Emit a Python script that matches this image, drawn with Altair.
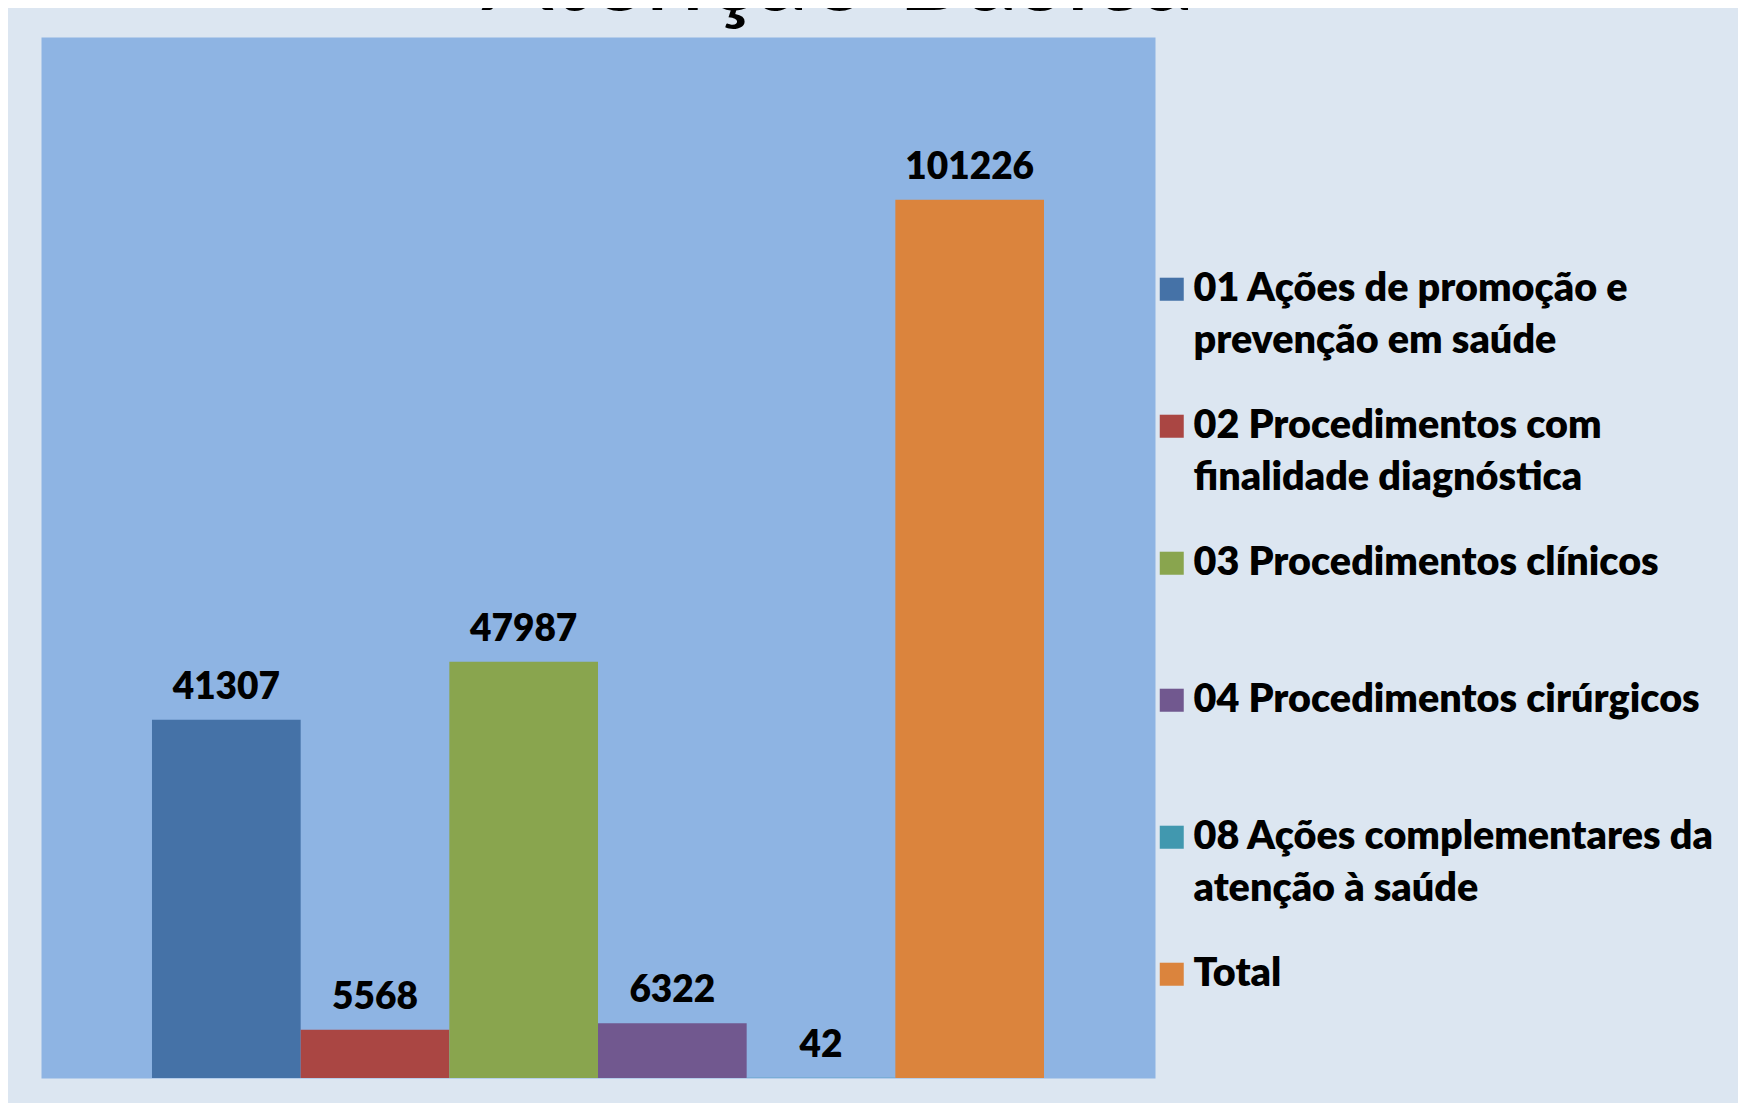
import json
import altair as alt
import pandas as pd

# ---- data ----
categories = [
    "01 Ações de promoção e prevenção em saúde",
    "02 Procedimentos com finalidade diagnóstica",
    "03 Procedimentos clínicos",
    "04 Procedimentos cirúrgicos",
    "08 Ações complementares da atenção à saúde",
    "Total",
]
values = [41307, 5568, 47987, 6322, 42, 101226]
colors = ["#4572A7", "#AA4643", "#89A54E", "#71588F", "#4198AF", "#DB843D"]
legend_lines = [
    ["01 Ações de promoção e", "prevenção em saúde"],
    ["02 Procedimentos com", "finalidade diagnóstica"],
    ["03 Procedimentos clínicos"],
    ["04 Procedimentos cirúrgicos"],
    ["08 Ações complementares da", "atenção à saúde"],
    ["Total"],
]
title_text = ["Atenção Básica"]

df = pd.DataFrame({"cat": categories, "val": values, "lab": [str(v) for v in values]})
title_df = pd.DataFrame({"t": title_text})

# legend label expression: split long names on two lines
expr = "datum.label"
for cat, lines in reversed(list(zip(categories, legend_lines))):
    expr = f"datum.label == {json.dumps(cat)} ? {json.dumps(lines)} : ({expr})"

x_enc = alt.X("cat:N", sort=categories,
              scale=alt.Scale(paddingInner=0, paddingOuter=0.7466), axis=None)
y_enc = alt.Y("val:Q", scale=alt.Scale(domain=[0, 120000], nice=False, zero=True), axis=None)

bars = alt.Chart(df).mark_bar().encode(
    x=x_enc,
    y=y_enc,
    color=alt.Color(
        "cat:N",
        scale=alt.Scale(domain=categories, range=colors),
        legend=alt.Legend(
            title=None,
            orient="none",
            legendX=1111,
            legendY=244,
            direction="vertical",
            gridAlign="all",
            rowPadding=44,
            symbolType="M-1,-1.92H1V0H-1Z",
            symbolSize=576,
            symbolStrokeWidth=0,
            symbolOffset=0,
            labelOffset=2,
            labelFont="Lato",
            labelFontSize=39.5,
            labelFontWeight=800,
            labelColor="#000000",
            labelBaseline="alphabetic",
            labelLimit=1000,
            labelExpr=expr,
            padding=0,
            offset=0,
        ),
    ),
)

labels = alt.Chart(df).mark_text(
    font="Lato", fontSize=37, fontWeight=800, baseline="alphabetic",
    align="center", dy=-21, color="#000000",
).encode(x=x_enc, y=y_enc, text="lab:N")

title = alt.Chart(title_df).mark_text(
    font="Lato", fontSize=107, baseline="alphabetic", align="center", color="#000000",
).encode(x=alt.value(797), y=alt.value(-27), text="t:N")

chart = alt.layer(bars, labels, title).properties(
    width=1114,
    height=1041,
    autosize=alt.AutoSizeParams(type="none"),
    padding={"left": 33, "top": 29, "right": 583, "bottom": 25},
    background="#DCE6F1",
).configure(
    style={"guide-label": {"lineHeight": 52}},
    view=alt.ViewConfig(fill="#8EB4E3", stroke="transparent"),
)

chart.save("out.html", embed_options={"renderer": "svg", "actions": False})
